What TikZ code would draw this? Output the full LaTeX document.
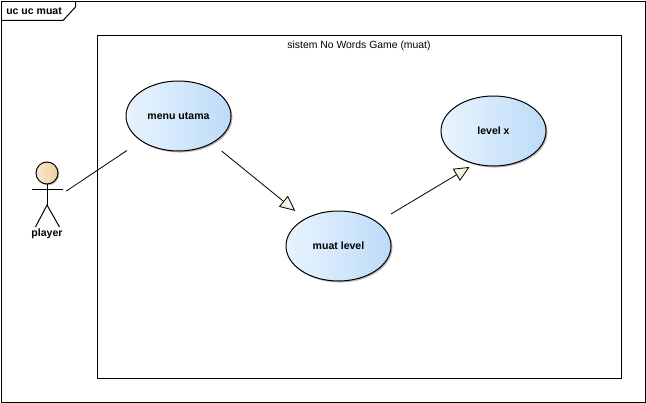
\documentclass[tikz,border=0pt]{standalone}
\usepackage{fontspec}
\setmainfont{Liberation Sans}
\usetikzlibrary{arrows.meta,calc,shadows,shapes.geometric}
\definecolor{ucleft}{HTML}{E9F4FE}
\definecolor{ucright}{HTML}{BDDBF8}
\definecolor{headl}{HTML}{F8E8D2}
\definecolor{headr}{HTML}{F0CE9C}
\definecolor{tipfill}{HTML}{F8F1E4}
\tikzset{
  x=0.75pt,y=-0.75pt,
  frameline/.style={draw=black,line width=0.75pt},
  usecase/.style={ellipse,draw=black,line width=0.75pt,minimum width=78.75pt,minimum height=52.5pt,inner sep=0pt,
    left color=ucleft,right color=ucright,
    copy shadow={draw=none,fill=black!28,shadow xshift=1pt,shadow yshift=-1pt,left color=black!28,right color=black!28},
    font=\bfseries\fontsize{7.9pt}{9pt}\selectfont},
  conn/.style={draw=black,line width=0.6pt},
  gentip/.style={-{Triangle[length=11.5pt,width=10.5pt,fill=tipfill,line width=0.6pt]}},
  stick/.style={draw=black,line width=0.75pt},
  label/.style={inner sep=0pt,font=\fontsize{7.8pt}{9pt}\selectfont},
  hook/.style={inner sep=0pt,outer sep=0pt,minimum width=31pt,minimum height=19.5pt},
}
\begin{document}
\begin{tikzpicture}
\useasboundingbox (0,0) rectangle (646,403);
\fill[white] (0,0) rectangle (646,403);
% outer frame
\draw[frameline] (1.5,1.5) rectangle (645.5,402.5);
\draw[frameline] (1.5,20.5) -- (63,20.5) -- (75.5,7) -- (75.5,1.5);
\node[label,anchor=west,font=\bfseries\fontsize{7.9pt}{9pt}\selectfont] (frametitle) at (6,11) {uc uc muat};
% system boundary
\draw[frameline] (97.5,35.5) rectangle (621.5,378.5);
\node[label] (systitle) at (359,46) {sistem No Words Game (muat)};
% use cases
\node[usecase] (menu) at (178.5,116) {menu utama};
\node[usecase] (muat) at (338.5,246) {muat level};
\node[usecase] (lx) at (493.5,131) {level x};
% actor
\draw[stick,left color=headl,right color=headr,
  copy shadow={draw=none,fill=black!28,shadow xshift=0.8pt,shadow yshift=-0.8pt,left color=black!28,right color=black!28}]
  (47,173) circle[radius=11];
\draw[stick] (47,184) -- (47,205);
\draw[stick] (32,189) -- (62.5,189);
\draw[stick] (35.5,227) -- (47,205) -- (59.5,227);
\node[label,font=\bfseries\fontsize{7.9pt}{9pt}\selectfont] (player) at (47,233.5) {player};
\node[hook] (actor) at (47,204) {};
% connectors
\coordinate (mout) at ($(muat)+(52.5,-32)$);
\coordinate (lin) at ($(lx)+(-24,36)$);
\draw[conn,shorten >=12.8pt] (actor) -- (menu);
\draw[conn,gentip,shorten <=9.2pt,shorten >=9.2pt] (menu) -- (muat);
\draw[conn,gentip] (mout) -- (lin);
\end{tikzpicture}
\end{document}
